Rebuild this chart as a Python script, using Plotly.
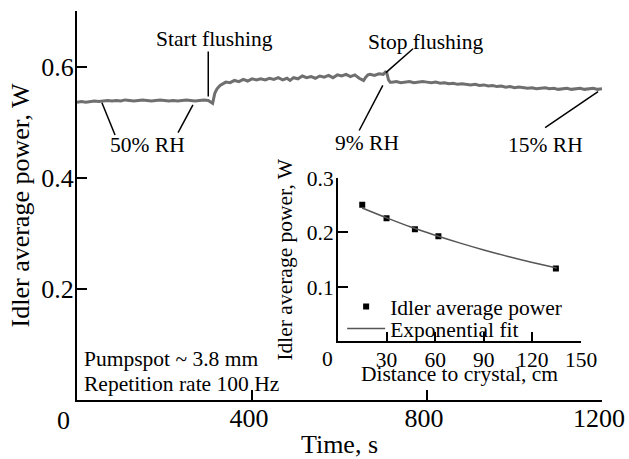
import plotly.graph_objects as go

# ---- main trace: idler average power vs time ----
time_s = [0, 10, 20, 30, 40, 50, 60, 70, 80, 90, 100, 110, 120, 130, 140, 150, 160, 170, 180, 190,
          200, 210, 220, 230, 240, 250, 260, 270, 280, 290, 300, 305, 310, 315, 320, 327, 335, 340,
          350, 360, 370, 380, 390, 400, 410, 420, 430, 440, 450, 460, 470, 480, 487, 495, 505, 515,
          525, 535, 545, 555, 565, 575, 585, 595, 605, 615, 625, 635, 645, 650, 655, 660, 665, 670,
          680, 690, 700, 705, 708, 712, 716,
          720, 730, 740, 750, 760, 770, 780, 790, 800, 810, 820, 830, 840, 850, 860, 870, 880, 890,
          900, 910, 920, 930, 940, 950, 960, 970, 980, 990, 1000, 1010, 1020, 1030, 1040, 1050, 1060,
          1070, 1080, 1090, 1100, 1110, 1120, 1130, 1140, 1150, 1160, 1170, 1180, 1190, 1200]
idler_power_w = [0.536, 0.537, 0.536, 0.537, 0.538, 0.537, 0.538, 0.539, 0.538, 0.539, 0.538, 0.540,
                 0.539, 0.538, 0.539, 0.540, 0.539, 0.538, 0.539, 0.540, 0.539, 0.538, 0.539, 0.538,
                 0.539, 0.540, 0.539, 0.538, 0.539, 0.540, 0.539, 0.537, 0.534, 0.552, 0.560, 0.566,
                 0.569, 0.572, 0.571, 0.575, 0.573, 0.577, 0.574, 0.578, 0.576, 0.578, 0.576, 0.579,
                 0.577, 0.580, 0.576, 0.579, 0.575, 0.580, 0.578, 0.583, 0.580, 0.582, 0.579, 0.583,
                 0.581, 0.584, 0.580, 0.585, 0.583, 0.586, 0.582, 0.585, 0.579, 0.577, 0.575, 0.581,
                 0.585, 0.586, 0.584, 0.587, 0.586, 0.590, 0.589, 0.576, 0.572,
                 0.572, 0.573, 0.571, 0.572, 0.573, 0.571, 0.572, 0.573, 0.572, 0.571, 0.572, 0.570,
                 0.571, 0.569, 0.570, 0.568, 0.569, 0.568, 0.567, 0.568, 0.566, 0.567, 0.565, 0.566,
                 0.564, 0.565, 0.563, 0.564, 0.562, 0.563, 0.562, 0.561, 0.562, 0.560, 0.561, 0.562,
                 0.560, 0.561, 0.559, 0.560, 0.561, 0.559, 0.560, 0.561, 0.559, 0.560, 0.561, 0.559,
                 0.560]

# ---- inset: power vs distance to crystal ----
distance_cm = [15, 30, 47.5, 62, 134.5]
inset_power_w = [0.251, 0.226, 0.206, 0.193, 0.134]
fit_distance_cm = [15, 30, 45, 60, 75, 90, 105, 120, 135]
fit_power_w = [0.245, 0.227, 0.210, 0.195, 0.181, 0.168, 0.156, 0.145, 0.135]

main_xticks = [400, 800, 1200]
main_yticks = [0.2, 0.4, 0.6]
inset_xticks = [30, 60, 90, 120, 150]
inset_yticks = [0.1, 0.2, 0.3]

FONT = "Liberation Serif, Times New Roman, serif"
BIG = 26
SMALL = 21.5

fig = go.Figure()
fig.add_trace(go.Scatter(x=time_s, y=idler_power_w, mode="lines",
                         line=dict(color="#6f6f6f", width=3), showlegend=False,
                         xaxis="x", yaxis="y"))
fig.add_trace(go.Scatter(x=distance_cm, y=inset_power_w, mode="markers",
                         marker=dict(symbol="square", size=6, color="black"),
                         name="Idler average power", xaxis="x2", yaxis="y2",
                         legend="legend"))
fig.add_trace(go.Scatter(x=fit_distance_cm, y=fit_power_w, mode="lines",
                         line=dict(color="#555555", width=1.5, shape="spline"),
                         name="Exponential fit", xaxis="x2", yaxis="y2",
                         legend="legend2"))

axis_common = dict(showline=True, linecolor="black", linewidth=2, showgrid=False,
                   zeroline=False, ticks="inside", tickcolor="black", tickwidth=2,
                   automargin=False)

legend_common = dict(xanchor="left", yanchor="top", bgcolor="rgba(0,0,0,0)",
                     font=dict(size=SMALL), itemwidth=38, tracegroupgap=0)

fig.update_layout(
    width=629, height=459,
    margin=dict(l=77, r=27, t=11, b=59),
    paper_bgcolor="white", plot_bgcolor="white",
    font=dict(family=FONT, color="black", size=SMALL),
    xaxis=dict(**axis_common, range=[0, 1200], tickvals=main_xticks, ticklen=10,
               tickfont=dict(size=BIG), ticklabelstandoff=-6, ticklabelshift=-3,
               title=dict(text="Time, s", font=dict(size=BIG), standoff=7)),
    yaxis=dict(**axis_common, range=[0, 0.7], tickvals=main_yticks, ticklen=10,
               tickformat=".1f", tickfont=dict(size=BIG), ticklabelstandoff=-4,
               title=dict(text="Idler average power, W", font=dict(size=BIG), standoff=4)),
    xaxis2=dict(**axis_common, domain=[0.497, 0.960], anchor="y2", range=[0, 150],
                tickvals=inset_xticks, ticklen=9, tickfont=dict(size=SMALL),
                ticklabelstandoff=-2),
    yaxis2=dict(**axis_common, domain=[0.1504, 0.5707], anchor="x2", range=[0, 0.3],
                tickvals=inset_yticks, ticklen=10, tickformat=".1f",
                tickfont=dict(size=SMALL), ticklabelstandoff=-2,
                title=dict(text="Idler average power, W", font=dict(size=SMALL), standoff=8)),
    legend=dict(**legend_common, x=0.505, y=0.293),
    legend2=dict(**legend_common, x=0.505, y=0.2365),
)

# inset x-axis title
fig.add_annotation(x=0.5, y=0.067, xref="x2 domain", yref="paper",
                   text="Distance to crystal, cm", showarrow=False,
                   xanchor="center", yanchor="middle", font=dict(size=SMALL))

# origin "0" labels (placed left of origin as in the reference)
fig.add_annotation(x=0, y=0, xref="x", yref="y", text="0", showarrow=False,
                   xshift=-14, yshift=-20, font=dict(size=BIG))
fig.add_annotation(x=0, y=0, xref="x2", yref="y2", text="0", showarrow=False,
                   xshift=-10, yshift=-18, font=dict(size=SMALL))

# text annotations
texts = [
    ("Start flushing", 315, 0.650, "center"),
    ("50% RH", 161, 0.458, "center"),
    ("Stop flushing", 798, 0.645, "center"),
    ("9% RH", 663, 0.463, "center"),
    ("15% RH", 1070, 0.458, "center"),
    ("Pumpspot ~ 3.8 mm", 12, 0.074, "left"),
    ("Repetition rate 100 Hz", 12, 0.029, "left"),
]
for txt, x, y, anc in texts:
    fig.add_annotation(x=x, y=y, xref="x", yref="y", text=txt, showarrow=False,
                       xanchor=anc, yanchor="middle", font=dict(size=SMALL))

# leader lines
leaders = [
    (300, 0.627, 300, 0.546),
    (57, 0.535, 87, 0.477),
    (265, 0.531, 231, 0.481),
    (768, 0.632, 706, 0.589),
    (645, 0.485, 699, 0.566),
    (1070, 0.490, 1191, 0.555),
]
for x0, y0, x1, y1 in leaders:
    fig.add_shape(type="line", xref="x", yref="y", x0=x0, y0=y0, x1=x1, y1=y1,
                  line=dict(color="black", width=1.5))

# remove the default page margin so the 629x459 figure fills the window exactly
fig.write_html("out.html", config={"displayModeBar": False},
               post_script="document.body.style.margin='0';document.body.style.overflow='hidden';")
